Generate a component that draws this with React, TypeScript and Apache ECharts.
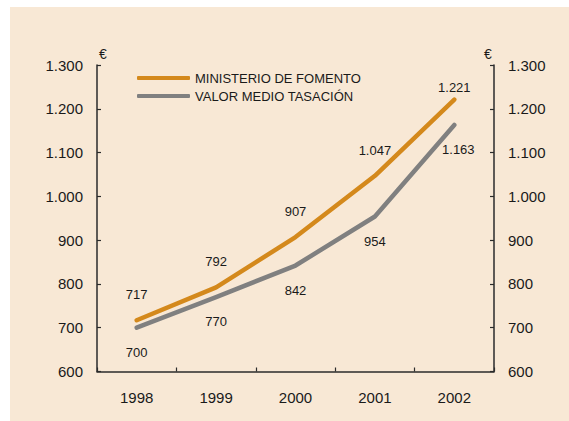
import React, { useEffect, useRef } from "react";
import * as echarts from "echarts";

const years = ["1998", "1999", "2000", "2001", "2002"];
const ministerio = [717, 792, 907, 1047, 1221];
const valorMedio = [700, 770, 842, 954, 1163];
const seriesNames = ["MINISTERIO DE FOMENTO", "VALOR MEDIO TASACIÓN"];
const yMin = 600;
const yMax = 1300;
const yStep = 100;
const unitLabel = "€";

const FONT = 'Arial, "Liberation Sans", Helvetica, sans-serif';
const ORANGE = "#D4891C";
const GRAY = "#808080";
const BG = "#F8E8D5";
const AXIS = "#2b2b2b";

const fmt = (n: number) => {
  if (n >= 1000) {
    return Math.floor(n / 1000) + "." + String(n % 1000).padStart(3, "0");
  }
  return String(n);
};

export default function App() {
  const ref = useRef<HTMLDivElement>(null);

  useEffect(() => {
    document.body.style.margin = "0";
    if (!ref.current) return;
    const chart = echarts.init(ref.current, undefined, { renderer: "svg" });

    const yAxisBase = (position: "left" | "right") => ({
      type: "value" as const,
      position,
      min: yMin,
      max: yMax,
      interval: yStep,
      splitLine: { show: false },
      axisLine: { show: true, lineStyle: { color: AXIS, width: 1.5 } },
      axisTick: { show: true, inside: true, length: 4, lineStyle: { color: AXIS, width: 1.2 } },
      axisLabel: {
        color: "#1a1a1a",
        fontFamily: FONT,
        fontSize: 15,
        margin: 14,
        formatter: (v: number) => fmt(v),
      },
    });

    const lastIdx = ministerio.length - 1;

    const orangeData = ministerio.map((v, i) =>
      i === lastIdx ? { value: v, label: { distance: 6 } } : v
    );
    const grayData = valorMedio.map((v, i) =>
      i === lastIdx ? { value: v, label: { offset: [4, 0] } } : v
    );

    chart.setOption({
      animation: false,
      backgroundColor: "transparent",
      textStyle: { fontFamily: FONT },
      grid: { left: 97, right: 75, top: 65, bottom: 49.5, containLabel: false },
      legend: {
        orient: "vertical",
        left: 137,
        top: 71,
        padding: 0,
        itemWidth: 53,
        itemHeight: 4,
        itemGap: 4,
        icon: "roundRect",
        selectedMode: false,
        data: [
          { name: seriesNames[0], itemStyle: { color: ORANGE, opacity: 1 } },
          { name: seriesNames[1], itemStyle: { color: GRAY, opacity: 1 } },
        ],
        textStyle: { fontFamily: FONT, fontSize: 13, color: "#1a1a1a", lineHeight: 14 },
      },
      graphic: [
        {
          type: "text",
          x: 103,
          y: 54,
          style: {
            text: unitLabel,
            fontFamily: FONT,
            fontSize: 14,
            fill: "#1a1a1a",
            textAlign: "center",
            textVerticalAlign: "middle",
          },
        },
        {
          type: "text",
          x: 488,
          y: 54,
          style: {
            text: unitLabel,
            fontFamily: FONT,
            fontSize: 14,
            fill: "#1a1a1a",
            textAlign: "center",
            textVerticalAlign: "middle",
          },
        },
      ],
      xAxis: {
        type: "category",
        data: years,
        boundaryGap: true,
        axisLine: { show: true, lineStyle: { color: AXIS, width: 1.5 } },
        axisTick: { show: true, inside: true, length: 4, lineStyle: { color: AXIS, width: 1.2 } },
        axisLabel: { color: "#1a1a1a", fontFamily: FONT, fontSize: 15, margin: 18 },
        splitLine: { show: false },
      },
      yAxis: [yAxisBase("left"), yAxisBase("right")],
      series: [
        {
          name: seriesNames[0],
          type: "line",
          data: orangeData,
          yAxisIndex: 0,
          symbol: "circle",
          symbolSize: 0.1,
          showSymbol: true,
          itemStyle: { color: ORANGE },
          lineStyle: { color: ORANGE, width: 4.5, cap: "round", join: "round" },
          label: {
            show: true,
            position: "top",
            distance: 19,
            color: "#1a1a1a",
            fontFamily: FONT,
            fontSize: 13,
            formatter: (p: any) => fmt(p.value as number),
          },
          z: 3,
        },
        {
          name: seriesNames[1],
          type: "line",
          data: grayData,
          yAxisIndex: 0,
          symbol: "circle",
          symbolSize: 0.1,
          showSymbol: true,
          itemStyle: { color: GRAY },
          lineStyle: { color: GRAY, width: 4.5, cap: "round", join: "round" },
          label: {
            show: true,
            position: "bottom",
            distance: 18,
            color: "#1a1a1a",
            fontFamily: FONT,
            fontSize: 13,
            formatter: (p: any) => fmt(p.value as number),
          },
          z: 2,
        },
      ],
    });

    return () => chart.dispose();
  }, []);

  return (
    <div style={{ position: "relative", width: 569, height: 421, background: "#ffffff", overflow: "hidden" }}>
      <div style={{ position: "absolute", left: 10, top: 7, right: 0, bottom: 0, background: BG }} />
      <div ref={ref} style={{ position: "absolute", left: 0, top: 0, width: 569, height: 421 }} />
    </div>
  );
}
